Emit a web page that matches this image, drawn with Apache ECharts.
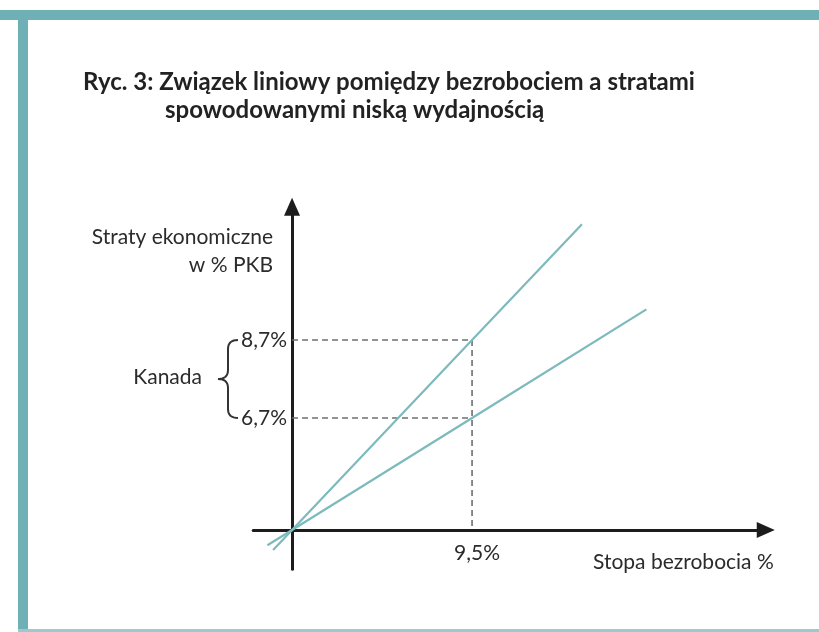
<!DOCTYPE html>
<html>
<head>
<meta charset="utf-8">
<script src="https://cdn.jsdelivr.net/npm/echarts@6.0.0/dist/echarts.min.js"></script>
<style>
html,body{margin:0;padding:0;background:#fff;}
#c{width:819px;height:632px;}
</style>
</head>
<body>
<div id="c"></div>
<script>
// ---- data (schematic chart) ----
var titleLine1 = 'Ryc. 3: Związek liniowy pomiędzy bezrobociem a stratami';
var titleLine2 = 'spowodowanymi niską wydajnością';
var yAxisName = 'Straty ekonomiczne\nw % PKB';
var xAxisName = 'Stopa bezrobocia %';
var groupName = 'Kanada';

// x position of the marked unemployment rate
var xMarkValue = [9.5];
var xMarkLabels = ['9,5%'];
// drawn heights of the two marked levels (schematic axis) and their labels
var yMarkValues = [8.7, 5.13];
var yMarkLabels = ['8,7%', '6,7%'];

// steep line (through 9,5% -> 8,7%)
var steepX = [-1.0, 0, 9.5, 15.3];
var steepY = [-0.92, 0, 8.7, 14.0];
// shallow line (through 9,5% -> 6,7%)
var shallowX = [-1.3, 0, 9.5, 18.7];
var shallowY = [-0.70, 0, 5.13, 10.1];

function zip(a, b) { return a.map(function (v, i) { return [v, b[i]]; }); }

var TEAL = '#7dbabd';
var FRAME = '#6fb0b7';
var INK = '#1c1c1c';
var TXT = '#2b2b2b';
var FONT = 'Lato, "Open Sans", sans-serif';
var FS = 21;

var chart = echarts.init(document.getElementById('c'), null, {renderer: 'canvas'});

var option = {
  backgroundColor: '#fff',
  animation: false,
  title: [
    {text: titleLine1, left: 78, top: 65,
     textStyle: {fontFamily: FONT, fontWeight: 'bold', fontSize: 24, color: '#222'}},
    {text: titleLine2, left: 160, top: 93,
     textStyle: {fontFamily: FONT, fontWeight: 'bold', fontSize: 24, color: '#222'}}
  ],
  grid: {left: 253.2, right: 53.25, top: 206.8, bottom: 62.7, containLabel: false},
  xAxis: {
    type: 'value', min: -2.05, max: 25,
    splitLine: {show: false},
    axisLine: {onZero: true, symbol: ['none', 'triangle'], symbolSize: [16, 18],
               lineStyle: {color: INK, width: 3}},
    axisTick: {show: false},
    axisLabel: {show: false}
  },
  yAxis: {
    type: 'value', min: -1.8, max: 14.8,
    splitLine: {show: false},
    axisLine: {onZero: true, symbol: ['none', 'triangle'], symbolSize: [16, 18],
               lineStyle: {color: INK, width: 3}},
    axisTick: {show: false},
    axisLabel: {show: false}
  },
  series: [
    {type: 'line', data: [[0, yMarkValues[0]], [xMarkValue[0], yMarkValues[0]], [xMarkValue[0], 0]],
     symbol: 'none', silent: true, z: 1,
     lineStyle: {color: '#6f6f6f', width: 1.6, type: [6, 4]}},
    {type: 'line', data: [[0, yMarkValues[1]], [xMarkValue[0], yMarkValues[1]]],
     symbol: 'none', silent: true, z: 1,
     lineStyle: {color: '#6f6f6f', width: 1.6, type: [6, 4]}},
    {type: 'line', data: zip(steepX, steepY), symbol: 'none', silent: true, z: 3,
     lineStyle: {color: TEAL, width: 2.2}},
    {type: 'line', data: zip(shallowX, shallowY), symbol: 'none', silent: true, z: 3,
     lineStyle: {color: TEAL, width: 2.2}}
  ]
};
chart.setOption(option);

// annotations positioned from the axes
function px(x, y) { return chart.convertToPixel({gridIndex: 0}, [x, y]); }
var pTop = px(0, yMarkValues[0]);
var pBot = px(0, yMarkValues[1]);
var pEnd = px(25, 0);
var pOrig = px(0, 0);

// brace as sampled quadratic curves
function quad(p0, p1, p2, n, out) {
  for (var i = 0; i <= n; i++) {
    var t = i / n, u = 1 - t;
    out.push([u * u * p0[0] + 2 * u * t * p1[0] + t * t * p2[0],
              u * u * p0[1] + 2 * u * t * p1[1] + t * t * p2[1]]);
  }
}
var bx = 238, mx = 228, tipx = 218;
var ymid = (pTop[1] + pBot[1]) / 2;
var pts = [];
quad([bx, pTop[1]], [mx, pTop[1]], [mx, pTop[1] + 9], 8, pts);
quad([mx, ymid - 9], [mx, ymid], [tipx, ymid], 8, pts);
quad([tipx, ymid], [mx, ymid], [mx, ymid + 9], 8, pts);
quad([mx, pBot[1] - 9], [mx, pBot[1]], [bx, pBot[1]], 8, pts);

var graphics = [
  {type: 'rect', shape: {x: 0, y: 10, width: 819, height: 10}, style: {fill: FRAME}, silent: true},
  {type: 'rect', shape: {x: 18, y: 10, width: 10, height: 622}, style: {fill: FRAME}, silent: true},
  {type: 'rect', shape: {x: 18, y: 629, width: 801, height: 3}, style: {fill: '#9ccacc'}, silent: true},
  {type: 'text', x: 273, y: 251, style: {text: yAxisName, fill: TXT, font: FS + 'px ' + FONT,
    align: 'right', verticalAlign: 'middle', lineHeight: 28}, silent: true},
  {type: 'text', x: pEnd[0] + 8, y: 562, style: {text: xAxisName, fill: TXT, font: FS + 'px ' + FONT,
    align: 'right', verticalAlign: 'middle'}, silent: true},
  {type: 'text', x: 202, y: ymid - 2, style: {text: groupName, fill: TXT, font: FS + 'px ' + FONT,
    align: 'right', verticalAlign: 'middle'}, silent: true},
  {type: 'polyline', shape: {points: pts}, style: {stroke: '#333', lineWidth: 2, fill: null}, silent: true}
];
yMarkValues.forEach(function (v, i) {
  var p = px(0, v);
  graphics.push({type: 'text', x: p[0] - 5, y: p[1], silent: true,
    style: {text: yMarkLabels[i], fill: TXT, font: FS + 'px ' + FONT, align: 'right', verticalAlign: 'middle'}});
});
xMarkValue.forEach(function (v, i) {
  var p = px(v, 0);
  graphics.push({type: 'text', x: p[0] + 5, y: p[1] + 23, silent: true,
    style: {text: xMarkLabels[i], fill: TXT, font: FS + 'px ' + FONT, align: 'center', verticalAlign: 'middle'}});
});
chart.setOption({graphic: graphics});
</script>
</body>
</html>
